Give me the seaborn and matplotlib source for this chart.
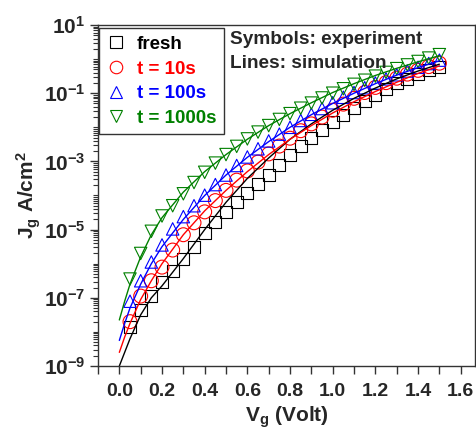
import numpy as np
import pandas as pd
import matplotlib
matplotlib.use("Agg")
import matplotlib.pyplot as plt
import seaborn as sns
from matplotlib.lines import Line2D
from matplotlib.ticker import LogLocator, NullFormatter, FixedLocator

sns.set_theme(style="ticks")
plt.rcParams['font.family'] = ['Liberation Sans', 'DejaVu Sans']
plt.rcParams['mathtext.fontset'] = 'custom'
plt.rcParams['mathtext.rm'] = 'Liberation Sans'
plt.rcParams['mathtext.it'] = 'Liberation Sans:italic'
plt.rcParams['mathtext.bf'] = 'Liberation Sans:bold'

# ---- experimental data (symbols) ----
v_exp = [0.05, 0.10, 0.15, 0.20, 0.25, 0.30, 0.35, 0.40, 0.45, 0.50,
         0.55, 0.60, 0.65, 0.70, 0.75, 0.80, 0.85, 0.90, 0.95, 1.00,
         1.05, 1.10, 1.15, 1.20, 1.25, 1.30, 1.35, 1.40, 1.45, 1.50]
logj_fresh = [-7.85, -7.35, -6.95, -6.55, -6.20, -5.85, -5.50, -5.10, -4.78, -4.48,
              -4.20, -3.93, -3.65, -3.40, -3.10, -2.80, -2.55, -2.30, -2.07, -1.85,
              -1.63, -1.42, -1.22, -1.04, -0.87, -0.71, -0.57, -0.44, -0.32, -0.22]
logj_10s = [-7.70, -6.95, -6.50, -6.10, -5.60, -5.15, -4.80, -4.48, -4.15, -3.85,
            -3.55, -3.28, -3.02, -2.78, -2.55, -2.32, -2.10, -1.90, -1.70, -1.50,
            -1.32, -1.15, -0.98, -0.83, -0.69, -0.56, -0.44, -0.33, -0.22, -0.12]
logj_100s = [-7.10, -6.50, -5.95, -5.45, -4.98, -4.62, -4.30, -3.99, -3.68, -3.40,
             -3.12, -2.87, -2.63, -2.40, -2.20, -2.00, -1.80, -1.62, -1.45, -1.28,
             -1.12, -0.98, -0.84, -0.70, -0.58, -0.46, -0.35, -0.24, -0.13, -0.03]
logj_1000s = [-6.45, -5.70, -5.05, -4.60, -4.30, -3.95, -3.62, -3.32, -3.05, -2.80,
              -2.56, -2.34, -2.14, -1.95, -1.77, -1.60, -1.44, -1.29, -1.14, -1.00,
              -0.87, -0.74, -0.62, -0.50, -0.39, -0.28, -0.17, -0.07, 0.03, 0.13]

# ---- simulation (lines) ----
v_sim = [0.0, 0.025, 0.05, 0.1, 0.15, 0.2, 0.3, 0.4, 0.5, 0.6, 0.7, 0.8, 0.9,
         1.0, 1.1, 1.2, 1.3, 1.4, 1.5]
sim_fresh = [-9.0, -8.6, -8.2, -7.5, -7.0, -6.65, -5.85, -5.0, -4.2, -3.5, -2.9, -2.35,
             -1.9, -1.5, -1.15, -0.85, -0.58, -0.35, -0.15]
sim_10s = [-8.6, -8.15, -7.75, -7.05, -6.5, -6.0, -5.15, -4.45, -3.85, -3.3, -2.8, -2.35,
           -1.95, -1.58, -1.25, -0.95, -0.68, -0.42, -0.2]
sim_100s = [-8.25, -7.75, -7.3, -6.6, -6.0, -5.5, -4.7, -4.0, -3.4, -2.88, -2.42, -2.0,
            -1.63, -1.3, -1.0, -0.72, -0.47, -0.25, -0.05]
sim_1000s = [-7.65, -7.1, -6.6, -5.8, -5.15, -4.65, -3.9, -3.3, -2.8, -2.35, -1.95, -1.6,
             -1.28, -0.98, -0.72, -0.48, -0.27, -0.08, 0.1]

labels = ["fresh", "t = 10s", "t = 100s", "t = 1000s"]
colors = ["#000000", "#ff0000", "#0000ff", "#008000"]
markers = ["s", "o", "^", "v"]
msizes = [75, 100, 80, 80]

xtick_vals = [0.0, 0.2, 0.4, 0.6, 0.8, 1.0, 1.2, 1.4, 1.6]
xtick_text = ["0.0", "0.2", "0.4", "0.6", "0.8", "1.0", "1.2", "1.4", "1.6"]
ytick_vals = [1e-9, 1e-7, 1e-5, 1e-3, 1e-1, 1e1]
ytick_text = [r"$\mathbf{10^{-9}}$", r"$\mathbf{10^{-7}}$", r"$\mathbf{10^{-5}}$",
              r"$\mathbf{10^{-3}}$", r"$\mathbf{10^{-1}}$", r"$\mathbf{10^{1}}$"]

exp_series = [logj_fresh, logj_10s, logj_100s, logj_1000s]
sim_series = [sim_fresh, sim_10s, sim_100s, sim_1000s]

fig = plt.figure(figsize=(4.77, 4.30), dpi=100)
ax = fig.add_axes([98/477, 1-366/430, 377/477, 341/430])

for lab, col, sim in zip(labels, colors, sim_series):
    df = pd.DataFrame({"V": v_sim, "J": 10.0 ** np.array(sim)})
    sns.lineplot(data=df, x="V", y="J", ax=ax, color=col, lw=1.0, legend=False)

for lab, col, mk, ms, ex in zip(labels, colors, markers, msizes, exp_series):
    df = pd.DataFrame({"V": v_exp, "J": 10.0 ** np.array(ex)})
    sns.scatterplot(data=df, x="V", y="J", ax=ax, marker=mk, s=ms,
                    facecolors="none", edgecolor=col, linewidth=0.8, legend=False)

ax.set_yscale("log")
ax.set_ylim(1e-9, 1e1)
ax.set_xlim(-0.1, 1.667)

ax.xaxis.set_major_locator(FixedLocator(xtick_vals))
ax.xaxis.set_minor_locator(FixedLocator([-0.1, 0.1, 0.3, 0.5, 0.7, 0.9, 1.1, 1.3, 1.5]))
ax.set_xticklabels(xtick_text, fontweight="bold", fontsize=14)

ax.yaxis.set_major_locator(FixedLocator(ytick_vals))
ax.yaxis.set_minor_locator(LogLocator(base=10, subs=np.arange(1, 10), numticks=40))
ax.yaxis.set_minor_formatter(NullFormatter())
ax.set_yticklabels(ytick_text, fontsize=15)

ax.tick_params(axis="x", which="both", direction="out", length=5.5, width=1,
               color="#333333", top=False, right=False, pad=7)
ax.tick_params(axis="y", which="major", direction="out", length=6, width=1,
               color="#333333", right=False, pad=3)
ax.tick_params(axis="y", which="minor", direction="out", length=3.5, width=0.8,
               color="#333333", right=False)
for sp in ax.spines.values():
    sp.set_visible(True)
    sp.set_color("#333333")
    sp.set_linewidth(1.0)

ax.set_xlabel(r"$\mathbf{V_g}$ (Volt)", fontsize=15, fontweight="bold")
ax.xaxis.set_label_coords(0.5, -0.113)
ax.set_ylabel(r"$\mathbf{J_g\ A/cm^2}$", fontsize=15)
ax.yaxis.set_label_coords(-0.145, 0.5)

handles = [Line2D([], [], ls="none", marker=mk, markersize=9, markerfacecolor="none",
                  markeredgecolor=col, markeredgewidth=0.8)
           for mk, col in zip(markers, colors)]
leg = ax.legend(handles, labels, loc="upper left", bbox_to_anchor=(0.003, 0.99),
                frameon=True, fancybox=False, edgecolor="#333333", framealpha=1,
                prop={"weight": "bold", "size": 13.5}, handlelength=1.0,
                handletextpad=0.6, labelspacing=0.4, borderpad=0.4,
                borderaxespad=0.0)
leg.get_frame().set_linewidth(1.0)
for txt, col in zip(leg.get_texts(), colors):
    txt.set_color(col)

ax.text(0.35, 0.958, "Symbols: experiment", transform=ax.transAxes,
        fontsize=13.7, fontweight="bold", va="center", ha="left")
ax.text(0.35, 0.886, "Lines: simulation", transform=ax.transAxes,
        fontsize=13.7, fontweight="bold", va="center", ha="left")

fig.savefig("out.png", dpi=100)
